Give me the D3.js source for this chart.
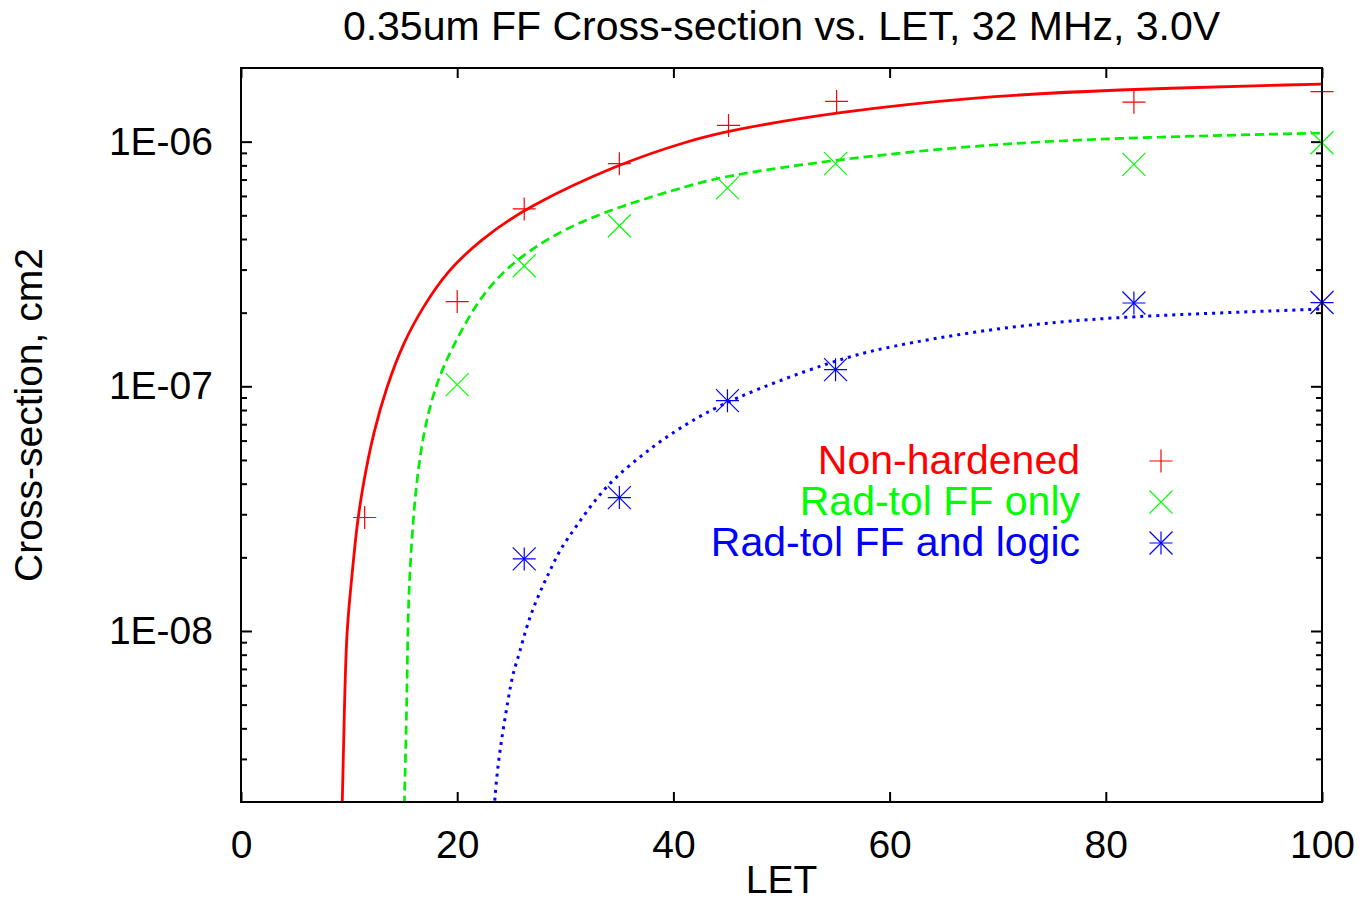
<!DOCTYPE html>
<html>
<head>
<meta charset="utf-8">
<script src="https://cdn.jsdelivr.net/npm/d3@7"></script>
<style>
  body { margin: 0; background: #fff; }
  svg { display: block; font-family: "Liberation Sans", Arial, sans-serif; }
</style>
</head>
<body>
<svg width="1367" height="901"></svg>
<script>
// measured data points (LET, cross-section)
var nonHardPts = [[11.44, 2.91e-8], [20, 2.22e-7], [26.2, 5.31e-7], [35, 8.13e-7], [45.1, 1.165e-6], [55.1, 1.46e-6], [82.6, 1.45e-6], [100, 1.6e-6]];
var ffOnlyPts = [[20, 1.016e-7], [26.2, 3.11e-7], [35, 4.53e-7], [45, 6.47e-7], [55, 8.13e-7], [82.6, 8.08e-7], [100, 9.9e-7]];
var ffLogicPts = [[26.2, 1.97e-8], [35, 3.51e-8], [45, 8.74e-8], [55, 1.17e-7], [82.6, 2.19e-7], [100, 2.2e-7]];

// fitted curves
var nonHardFit = [[9.3, 1.5e-9], [9.37, 2.0e-9], [9.56, 4.67e-9], [9.75, 1.0e-8], [10.24, 1.63e-8], [10.7, 2.69e-8], [11.32, 4.04e-8], [12.24, 6.46e-8], [13.48, 1.0e-7], [15.01, 1.51e-7], [16.86, 2.12e-7], [19.03, 2.95e-7], [22.11, 3.95e-7], [26.2, 5.35e-7], [35.0, 8.15e-7], [41.5, 1.01e-6], [45.1, 1.11e-6], [55.0, 1.32e-6], [67.8, 1.52e-6], [80, 1.63e-6], [100, 1.72e-6]];
var ffOnlyFit = [[15.05, 1.5e-9], [15.11, 2.0e-9], [15.33, 4.67e-9], [15.42, 1.0e-8], [15.57, 1.63e-8], [15.94, 2.95e-8], [16.4, 4.72e-8], [17.18, 7.55e-8], [18.41, 1.134e-7], [19.95, 1.56e-7], [21.8, 2.19e-7], [23.65, 2.76e-7], [25.8, 3.38e-7], [29.8, 4.4e-7], [35.06, 5.45e-7], [41.54, 6.64e-7], [45.08, 7.29e-7], [55.0, 8.45e-7], [67.8, 9.66e-7], [80, 1.034e-6], [100, 1.085e-6]];
var ffLogicFit = [[23.35, 1.5e-9], [23.43, 2.0e-9], [23.8, 2.92e-9], [24.26, 3.99e-9], [24.88, 5.81e-9], [25.19, 6.8e-9], [25.8, 8.2e-9], [26.43, 1.05e-8], [27.35, 1.35e-8], [28.43, 1.71e-8], [29.51, 2.16e-8], [31.05, 2.69e-8], [32.9, 3.51e-8], [34.75, 4.3e-8], [37.53, 5.43e-8], [40.31, 6.66e-8], [45.08, 8.83e-8], [55, 1.285e-7], [60, 1.456e-7], [67.8, 1.675e-7], [75.6, 1.84e-7], [82.6, 1.93e-7], [91.1, 2.0e-7], [100, 2.07e-7]];

var xTicks = [0, 20, 40, 60, 80, 100];
var yTicks = [1e-6, 1e-7, 1e-8];
var yTickLabels = ["1E-06", "1E-07", "1E-08"];
var seriesNames = ["Non-hardened", "Rad-tol FF only", "Rad-tol FF and logic"];

var svg = d3.select("svg");
var margin = { top: 68, right: 45, bottom: 99, left: 241 };
var width = 1367 - margin.left - margin.right,
    height = 901 - margin.top - margin.bottom;

var g = svg.append("g")
  .attr("transform", "translate(" + margin.left + "," + margin.top + ")");

var x = d3.scaleLinear().domain([0, 100]).range([0, width]);
var y = d3.scaleLog().domain([2e-9, 2e-6]).range([height, 0]);

// minor ticks for the log axis
var minorTicks = [];
[1e-9, 1e-8, 1e-7, 1e-6].forEach(function(dec) {
  for (var k = 2; k <= 9; k++) {
    var v = dec * k;
    if (v > 2e-9 && v < 2e-6) minorTicks.push(v);
  }
});

function styleAxis(sel) {
  sel.select(".domain").remove();
  sel.selectAll("line").attr("stroke", "#000").attr("stroke-width", 2);
  sel.selectAll("text").attr("fill", "#000").style("font-size", "39px")
    .style("font-family", "'Liberation Sans', Arial, sans-serif");
}

g.append("g")
  .attr("transform", "translate(0," + height + ")")
  .call(d3.axisBottom(x).tickValues(xTicks).tickSize(-10).tickPadding(28).tickFormat(d3.format("d")))
  .call(styleAxis);
g.append("g")
  .call(d3.axisTop(x).tickValues(xTicks).tickSize(-10).tickFormat(""))
  .call(styleAxis);

g.append("g")
  .call(d3.axisLeft(y).tickValues(yTicks).tickSize(-11).tickPadding(28)
    .tickFormat(function(d, i) { return yTickLabels[i]; }))
  .call(styleAxis);
g.append("g")
  .call(d3.axisLeft(y).tickValues(minorTicks).tickSize(-6).tickFormat(""))
  .call(styleAxis);
g.append("g")
  .attr("transform", "translate(" + width + ",0)")
  .call(d3.axisRight(y).tickValues(yTicks).tickSize(-11).tickFormat(""))
  .call(styleAxis);
g.append("g")
  .attr("transform", "translate(" + width + ",0)")
  .call(d3.axisRight(y).tickValues(minorTicks).tickSize(-6).tickFormat(""))
  .call(styleAxis);

// clip for curves
svg.append("clipPath").attr("id", "plotclip")
  .append("rect").attr("width", width).attr("height", height);

var line = d3.line()
  .x(function(d) { return x(d[0]); })
  .y(function(d) { return y(d[1]); })
  .curve(d3.curveBasis);

var curves = g.append("g").attr("clip-path", "url(#plotclip)");
curves.append("path").datum(nonHardFit).attr("d", line)
  .attr("fill", "none").attr("stroke", "#ff0000").attr("stroke-width", 2.8);
curves.append("path").datum(ffOnlyFit).attr("d", line)
  .attr("fill", "none").attr("stroke", "#00ee00").attr("stroke-width", 2.7)
  .attr("stroke-dasharray", "9,5");
curves.append("path").datum(ffLogicFit).attr("d", line)
  .attr("fill", "none").attr("stroke", "#0000ff").attr("stroke-width", 3)
  .attr("stroke-dasharray", "3,5");

// point markers
var s = 11.5;
function plus(sel, cx, cy) {
  sel.append("path").attr("d", "M" + (cx - s) + "," + cy + "H" + (cx + s) + "M" + cx + "," + (cy - s) + "V" + (cy + s));
}
function cross(sel, cx, cy) {
  sel.append("path").attr("d", "M" + (cx - s) + "," + (cy - s) + "L" + (cx + s) + "," + (cy + s) +
    "M" + (cx - s) + "," + (cy + s) + "L" + (cx + s) + "," + (cy - s));
}
function star(sel, cx, cy) { plus(sel, cx, cy); cross(sel, cx, cy); }

var markers = [
  { pts: nonHardPts, color: "#ff0000", fn: plus },
  { pts: ffOnlyPts, color: "#00ff00", fn: cross },
  { pts: ffLogicPts, color: "#0000ff", fn: star }
];

markers.forEach(function(m) {
  var mg = g.append("g").attr("stroke", m.color).attr("stroke-width", 1.2).attr("fill", "none");
  m.pts.forEach(function(d) { m.fn(mg, x(d[0]), y(d[1])); });
});

// legend
var legendColors = ["#ff0000", "#00ff00", "#0000ff"];
seriesNames.forEach(function(name, i) {
  var ly = 474 + i * 41;
  svg.append("text")
    .attr("x", 1080).attr("y", ly)
    .attr("text-anchor", "end")
    .attr("fill", legendColors[i])
    .style("font-size", "41px")
    .text(name);
  var mg = svg.append("g").attr("stroke", legendColors[i]).attr("stroke-width", 1.2).attr("fill", "none");
  markers[i].fn(mg, 1161, ly - 13);
});

// frame
g.append("rect").attr("width", width).attr("height", height)
  .attr("fill", "none").attr("stroke", "#000").attr("stroke-width", 2);

// titles
svg.append("text").attr("x", margin.left + width / 2).attr("y", 40)
  .attr("text-anchor", "middle").style("font-size", "41px")
  .text("0.35um FF Cross-section vs. LET, 32 MHz, 3.0V");
svg.append("text").attr("x", margin.left + width / 2).attr("y", 893)
  .attr("text-anchor", "middle").style("font-size", "39px")
  .text("LET");
svg.append("text")
  .attr("transform", "translate(42," + (margin.top + height / 2 - 20) + ") rotate(-90)")
  .attr("text-anchor", "middle").style("font-size", "39px")
  .text("Cross-section, cm2");
</script>
</body>
</html>
